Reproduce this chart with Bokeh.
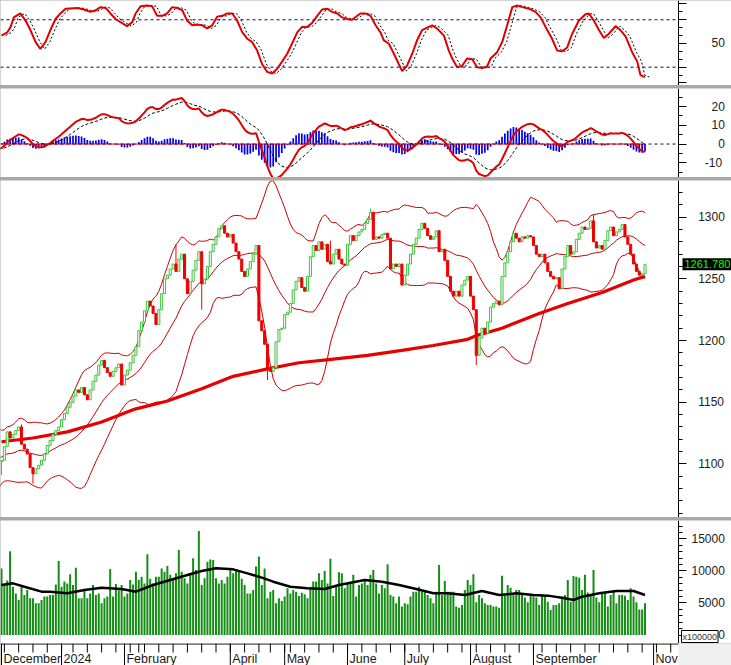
import numpy as np
import pandas as pd
from bokeh.plotting import figure
from bokeh.layouts import column
from bokeh.models import Range1d, FixedTicker, Label, BoxAnnotation
from bokeh.core.properties import value
from bokeh.embed import file_html
from bokeh.resources import INLINE

# ---------------- data ----------------
FIRST_DAY = "2023-10-02"          # warm-up days (Oct-Nov 2023) are only used by the indicators
HOLIDAYS = ["2024-01-01", "2024-02-08", "2024-02-09", "2024-02-12", "2024-02-13",
            "2024-02-14", "2024-04-18", "2024-04-29", "2024-04-30", "2024-05-01",
            "2024-09-02", "2024-09-03"]

warmup_close = [1154, 1137, 1128, 1135, 1154, 1126, 1137, 1147, 1150, 1146, 1143,
                1135, 1124, 1113, 1106, 1110, 1094, 1075, 1063, 1058, 1033, 1028,
                1060, 1081, 1079, 1091, 1097, 1118, 1116, 1110, 1106, 1110, 1124,
                1127, 1114, 1103, 1107, 1111, 1106, 1087, 1088, 1095, 1098, 1102]

close_dec = [1103, 1114, 1126, 1121, 1124, 1127, 1130, 1116, 1112, 1108, 1097, 1092,
             1096, 1099, 1103, 1108, 1115, 1119, 1124, 1127, 1130]
close_jan = [1136, 1141, 1146, 1150, 1155, 1160, 1158, 1162, 1156, 1152, 1160, 1167,
             1172, 1180, 1184, 1178, 1174, 1171, 1175, 1178, 1181, 1164]
close_feb = [1172, 1176, 1182, 1188, 1195, 1208, 1215, 1224, 1232, 1228, 1222, 1213,
             1225, 1238, 1250, 1253]
close_mar = [1258, 1262, 1256, 1266, 1270, 1250, 1238, 1248, 1257, 1265, 1272, 1246,
             1250, 1260, 1272, 1278, 1284, 1291, 1293, 1287, 1284]
close_apr = [1286, 1279, 1272, 1266, 1256, 1252, 1258, 1264, 1270, 1277, 1216, 1208,
             1197, 1177, 1175, 1178, 1199, 1209, 1210]
close_may = [1221, 1223, 1230, 1241, 1248, 1251, 1243, 1240, 1252, 1268, 1277, 1273,
             1280, 1274, 1278, 1264, 1262, 1270, 1274, 1266, 1262, 1261]
close_jun = [1278, 1285, 1281, 1285, 1288, 1290, 1295, 1298, 1304, 1282, 1284, 1283,
             1286, 1287, 1283, 1258, 1262, 1260, 1262, 1245]
close_jul = [1253, 1262, 1270, 1278, 1283, 1290, 1295, 1291, 1285, 1282, 1284, 1289,
             1272, 1274, 1265, 1252, 1240, 1236, 1240, 1236, 1245, 1249, 1252]
close_aug = [1236, 1225, 1188, 1202, 1210, 1206, 1215, 1227, 1230, 1232, 1229, 1252,
             1263, 1272, 1280, 1287, 1283, 1280, 1284, 1283, 1285, 1284]
close_sep = [1277, 1270, 1268, 1270, 1263, 1256, 1252, 1250, 1251, 1242, 1258, 1268,
             1277, 1270, 1272, 1282, 1287, 1292, 1290]
close_oct = [1291, 1297, 1280, 1275, 1277, 1274, 1281, 1289, 1292, 1285, 1288, 1290,
             1294, 1284, 1278, 1270, 1262, 1256, 1253, 1254, 1261.78]

# visible long shadows (bar number from 1 Dec 2023: price)
wick_high = {7: 1132, 61: 1278, 115: 1281, 129: 1307, 207: 1302}
wick_low = {0: 1091, 11: 1084, 70: 1225, 93: 1168, 166: 1180}

vol_dec = [10400, 7800, 8500, 13100, 7550, 6500, 5450, 7550, 6250, 7050, 5750, 5750,
           4950, 4950, 5450, 6000, 6000, 6250, 6250, 7900, 11550]
vol_jan = [7550, 8350, 8050, 9500, 7800, 10500, 5750, 5750, 7050, 5750, 6500, 7800,
           6250, 6500, 4950, 5750, 6000, 10300, 6000, 7950, 7000, 7800]
vol_feb = [6000, 6500, 8600, 7900, 9900, 8600, 9100, 8050, 12600, 8800, 8050, 9100,
           9100, 10400, 9900, 10800]
vol_mar = [9400, 8850, 9650, 13300, 9900, 8850, 8050, 9650, 12000, 10150, 16250, 7800,
           8850, 11450, 11800, 11700, 8850, 8050, 8600, 8050, 9100]
vol_apr = [10400, 9650, 10150, 9900, 8800, 7800, 6500, 6500, 7050, 10700, 12250, 7800,
           10400, 5750, 6750, 7050, 4950, 5750, 5300]
vol_may = [6000, 7300, 6500, 7050, 6750, 6100, 6600, 6350, 5750, 7550, 8350, 8350,
           9650, 8600, 10000, 8050, 11900, 6100, 7550, 9800, 9650, 7300]
vol_jun = [8050, 8050, 9400, 6000, 7800, 8050, 8600, 7800, 9400, 10150, 8050, 6500,
           7800, 7300, 11050, 6250, 6000, 4950, 6000, 4450]
vol_jul = [4950, 4800, 6000, 6750, 6750, 7550, 6750, 6750, 6250, 5750, 4950, 6750,
           10950, 6250, 8450, 6750, 6750, 6750, 4450, 4250, 4700, 7050, 8600]
vol_aug = [7800, 9500, 5100, 6250, 5750, 4950, 4700, 4700, 4450, 4450, 4250, 9250,
           6250, 7800, 7400, 6250, 7050, 7050, 6250, 5850, 5100, 6250]
vol_sep = [6000, 5850, 4700, 6250, 6000, 5200, 3900, 4700, 4700, 4950, 6000, 6250,
           8600, 5200, 9200, 9100, 8950, 7050, 9400]
vol_oct = [6650, 6250, 10150, 5850, 5100, 6500, 6650, 4450, 6250, 6750, 4950, 6250,
           6250, 6150, 5450, 7300, 6000, 5100, 4000, 4000, 4950]

# lines (bar number, value)
ma200_bar = [0, 11, 23, 35, 46, 58, 70, 81, 93, 104, 116, 128, 140, 151, 163, 166,
             175, 188, 198, 210, 221, 225]
ma200_val = [1118, 1121, 1126, 1134, 1144, 1151, 1161, 1171, 1177, 1182, 1185, 1188,
             1192, 1196, 1201, 1204, 1210, 1222, 1230, 1239, 1249, 1252]
volma_bar = [0, 4, 8, 14, 17, 23, 29, 35, 42, 47, 53, 59, 65, 70, 75, 81, 86, 90, 95,
             101, 107, 113, 118, 127, 133, 139, 145, 151, 156, 162, 168, 174, 180, 186,
             191, 197, 200, 203, 209, 215, 221, 225]
volma_val = [7810, 8070, 7550, 6770, 6770, 6510, 7030, 7400, 7190, 6770, 7810, 8590,
             9375, 10000, 10420, 10260, 9630, 9110, 8330, 7550, 7290, 7190, 7810, 8590,
             8330, 7810, 7190, 6510, 6510, 6250, 6875, 6250, 6510, 6250, 6150, 5730,
             5470, 5990, 6510, 6875, 6875, 6250]
stoch_k_bar = [0, 2, 3.2, 4.3, 6.6, 8.4, 10.1, 11.9, 13.6, 15.4, 17.1, 18.9, 20.6,
               22.4, 26.5, 28.8, 31.1, 32.9, 34.6, 36.4, 38.1, 39.9, 41.6, 43.9, 45.7,
               46.9, 48.6, 50.9, 52.7, 54.4, 56.2, 57.9, 59.7, 61.4, 63.2, 64.9, 66.7,
               68.4, 70.2, 71.9, 73.7, 75.4, 77.2, 78.9, 80.7, 82.4, 84.2, 85.9, 87.6,
               89.4, 91.1, 92.9, 94.6, 96.4, 98.1, 99.9, 101.6, 103.4, 105.1, 106.9,
               108.6, 110.4, 112.1, 113.9, 115.6, 117.4, 119.1, 120.9, 122.6, 124.4,
               125.5, 127.3, 129, 130.8, 132.5, 133.7, 135.4, 137.2, 138.9, 140.1,
               141.8, 143.6, 145.3, 147.1, 148.8, 150.6, 152.3, 154.7, 156.4, 157.6,
               159.3, 161.1, 162.8, 164.6, 166.3, 168.1, 169.8, 171, 173.3, 175.1,
               176.8, 178.6, 180.3, 182.1, 184.4, 186.7, 188.5, 190.8, 192.5, 194.3,
               196, 197.8, 199.5, 201.9, 204.2, 205.4, 207.1, 208.9, 210.6, 212.3,
               214.7, 216.4, 218.2, 220.5, 222.3, 223.4, 224.6, 225]
stoch_k_val = [60, 64, 71, 83, 88, 79, 67, 52, 43, 52, 67, 81, 88, 94, 95, 93, 90, 92,
               96, 95, 88, 81, 77, 72, 77, 88, 97, 98, 97, 85, 85, 88, 96, 95, 92, 79,
               73, 74, 73, 69, 73, 84, 85, 88, 88, 79, 64, 56, 52, 41, 24, 14, 12, 18,
               27, 37, 50, 64, 71, 71, 76, 85, 93, 94, 90, 88, 83, 81, 80, 85, 88, 88,
               85, 73, 64, 54, 50, 37, 24, 15, 22, 37, 54, 67, 70, 73, 69, 60, 41, 31,
               20, 22, 31, 30, 20, 19, 21, 31, 39, 52, 73, 96, 98, 96, 94, 90, 83, 67,
               56, 41, 40, 45, 62, 79, 87, 88, 79, 67, 57, 62, 72, 67, 59, 39, 27, 10,
               8, 8]
STOCH_D_LAG = 1.5   # the dashed %D trails %K by about one and a half bars

last_price_text = "1261.780"

month_keys = ["2023-12", "2024-01", "2024-02", "2024-04", "2024-05", "2024-06",
              "2024-07", "2024-08", "2024-09", "2024-11"]
month_labels = ["December", "2024", "February", "April", "May", "June", "July",
                "August", "September", "Nov"]

stoch_ticks = [0, 20, 50, 80, 100]
stoch_labels = ["", "", "50", "", ""]
stoch_minor = [10, 30, 40, 60, 70, 90]
stoch_levels = [20, 80]
macd_ticks = [-10, 0, 10, 20]
macd_labels = ["-10", "0", "10", "20"]
macd_minor = [-15, -5, 5, 15, 25]
price_ticks = [1100, 1150, 1200, 1250, 1300]
price_labels = ["1100", "1150", "1200", "1250", "1300"]
price_minor = list(range(1060, 1330, 10))
vol_ticks = [0, 5000, 10000, 15000]
vol_labels = ["0", "5000", "10000", "15000"]
vol_minor = list(range(0, 18001, 1000))

# ---------------- derived ----------------
shown_close = (close_dec + close_jan + close_feb + close_mar + close_apr + close_may +
               close_jun + close_jul + close_aug + close_sep + close_oct)
close_all = np.array(warmup_close + shown_close, dtype=float)
NW = len(warmup_close)
n_all = len(close_all)
idx_all = np.arange(n_all) - NW

dates = pd.bdate_range(FIRST_DAY, "2024-11-15")
dates = dates[~dates.isin(pd.to_datetime(HOLIDAYS))]
ext_idx = np.arange(len(dates)) - NW

open_all = np.r_[close_all[0], close_all[:-1]]
high_all = np.maximum(open_all, close_all)
low_all = np.minimum(open_all, close_all)
for b, v in wick_high.items():
    high_all[b + NW] = max(high_all[b + NW], v)
for b, v in wick_low.items():
    low_all[b + NW] = min(low_all[b + NW], v)

s = pd.Series(close_all)
bb_mid = s.rolling(20).mean()
bb_sd = s.rolling(20).std(ddof=0)
bb_up = bb_mid + 2 * bb_sd
bb_lo = bb_mid - 2 * bb_sd
ema12 = s.ewm(span=12, adjust=False).mean()
ema26 = s.ewm(span=26, adjust=False).mean()
macd = ema12 - ema26
signal = macd.ewm(span=9, adjust=False).mean()
hist = macd - signal

vol = np.array(vol_dec + vol_jan + vol_feb + vol_mar + vol_apr + vol_may + vol_jun +
               vol_jul + vol_aug + vol_sep + vol_oct, dtype=float)

shown = idx_all >= 0            # bars inside the window
lined = idx_all >= -1           # lines start one bar left of the window
xi = idx_all[shown]
xl = idx_all[lined]
o_s, c_s = open_all[shown], close_all[shown]
h_s, l_s = high_all[shown], low_all[shown]

# ---------------- figures ----------------
PX_PER_BAR = 2.86
X_START = -0.35
FULL_W = 731
AXIS_PX = 678
X_END = X_START + FULL_W / PX_PER_BAR
AXIS_X = X_START + AXIS_PX / PX_PER_BAR
xr = Range1d(X_START, X_END)
FS = "\u2007"


def pad(t):
    return (FS * (5 - len(t)) + t) if t else ""


def make(h, y0, y1, ticks, labels, minor):
    p = figure(frame_width=FULL_W, frame_height=h, x_range=xr, y_range=Range1d(y0, y1),
               x_axis_location=None, y_axis_location="right",
               output_backend="svg", toolbar_location=None,
               min_border_left=0, min_border_right=0, min_border_top=0,
               min_border_bottom=0)
    p.grid.visible = False
    p.outline_line_color = None
    p.background_fill_color = "white"
    p.border_fill_color = "white"
    ax = p.yaxis[0]
    ax.fixed_location = AXIS_X
    ax.ticker = FixedTicker(ticks=ticks, minor_ticks=minor)
    ax.major_label_overrides = {t: pad(l) for t, l in zip(ticks, labels)}
    ax.axis_line_color = "black"
    ax.major_tick_line_color = "black"
    ax.minor_tick_line_color = "black"
    ax.major_tick_out = 8
    ax.major_tick_in = 0
    ax.minor_tick_out = 4
    ax.minor_tick_in = 0
    ax.major_label_text_font = "Liberation Sans"
    ax.major_label_text_font_size = "12px"
    ax.major_label_text_color = "#222222"
    ax.major_label_standoff = 5
    return p


DASH_BLUE = "#000080"

# Stochastic
f1 = make(85, -3.2, 104.4, stoch_ticks, stoch_labels, stoch_minor)
f1.segment(x0=X_START, x1=AXIS_X, y0=stoch_levels, y1=stoch_levels,
           line_color=DASH_BLUE, line_dash="3 3", line_width=1)
f1.line([b + STOCH_D_LAG for b in stoch_k_bar], stoch_k_val, line_color="black",
        line_dash="2 2", line_width=1)
f1.line(stoch_k_bar, stoch_k_val, line_color="#e00000", line_width=2)

# MACD
f2 = make(89, -17.9, 29.7, macd_ticks, macd_labels, macd_minor)
f2.segment(x0=X_START, x1=AXIS_X, y0=0, y1=0, line_color=DASH_BLUE,
           line_dash="3 3", line_width=1)
f2.vbar(x=xi, top=hist[shown], bottom=0, width=0.6, fill_color="#0000f0",
        line_color=None)
f2.line(xi, np.zeros(len(xi)), line_color="#e00000", line_width=1)
f2.line(xl, signal[lined], line_color="black", line_dash="3 2", line_width=1)
f2.line(xl, macd[lined], line_color="#e00000", line_width=2)

# Price
f3 = make(337, 1056.6, 1329.7, price_ticks, price_labels, price_minor)
for band in (bb_up, bb_mid, bb_lo):
    f3.line(xl, band[lined], line_color="#c80000", line_width=1)
f3.line(ma200_bar, ma200_val, line_color="#e60000", line_width=3.2)
up = c_s >= o_s
dn = ~up
UPC, DNC = "#3cc43c", "#f00000"
f3.segment(xi[up], h_s[up], xi[up], l_s[up], line_color=UPC, line_width=1)
f3.segment(xi[dn], h_s[dn], xi[dn], l_s[dn], line_color=DNC, line_width=1)
f3.vbar(x=xi[up], top=c_s[up], bottom=o_s[up], width=0.72,
        fill_color="white", line_color=UPC, line_width=1)
f3.vbar(x=xi[dn], top=o_s[dn], bottom=c_s[dn], width=0.72,
        fill_color=DNC, line_color=DNC, line_width=1)
f3.add_layout(Label(x=AXIS_PX + 4, y=close_all[-1], x_units="screen", y_units="data",
                    text=last_price_text, text_color="#00ff00",
                    text_font="Liberation Sans", text_font_size="11px",
                    text_baseline="middle", text_align="left",
                    background_fill_color="black", padding=2))

# Volume
f4 = make(123, -1328, 17890, vol_ticks, vol_labels, vol_minor)
f4.vbar(x=xi, top=vol, bottom=0, width=0.7, fill_color="#158c15", line_color=None)
f4.line(volma_bar, volma_val, line_color="black", line_width=2.5)
f4.add_layout(Label(x=AXIS_PX + 3, y=1, x_units="screen", y_units="screen",
                    text="x100000", text_color="#333333", text_font="Liberation Sans",
                    text_font_size="9px", text_baseline="bottom", text_align="left",
                    background_fill_color="white", border_line_color="black",
                    padding=1))

# Time axis strip
f5 = figure(frame_width=FULL_W, frame_height=22, x_range=xr, y_range=Range1d(0, 22),
            x_axis_location=None, y_axis_location=None, output_backend="svg",
            toolbar_location=None, min_border_left=0, min_border_right=0,
            min_border_top=0, min_border_bottom=0)
f5.grid.visible = False
f5.outline_line_color = None
f5.background_fill_color = "white"
f5.border_fill_color = "white"
ym = np.array(dates.strftime("%Y-%m"))
month_pos = [int(ext_idx[np.argmax(ym == k)]) for k in month_keys]
weeks = np.asarray(dates.isocalendar().week, dtype=int)
week_start = np.r_[True, weeks[1:] != weeks[:-1]]
minor_pos = ext_idx[week_start]
f5.segment(minor_pos, 13, minor_pos, 22, line_color="black", line_width=1)
f5.segment(month_pos, 0, month_pos, 22, line_color="black", line_width=1)
f5.segment(x0=X_START, x1=AXIS_X, y0=21.5, y1=21.5, line_color="black", line_width=1.2)
f5.text(x=month_pos, y=7, text=month_labels, text_align="left", text_baseline="middle",
        x_offset=2, text_font=value("Liberation Sans"), text_font_size="12.5px",
        text_color="#1a1a1a")
f5.add_layout(BoxAnnotation(left=AXIS_X, fill_color="#f0f0f0", fill_alpha=1,
                            line_color=None, level="overlay"))

layout = column(f1, f2, f3, column(f4, f5, spacing=0), spacing=3,
                styles={"background-color": "#a8a8a8"})

open("out.html", "w").write(file_html(layout, INLINE))
